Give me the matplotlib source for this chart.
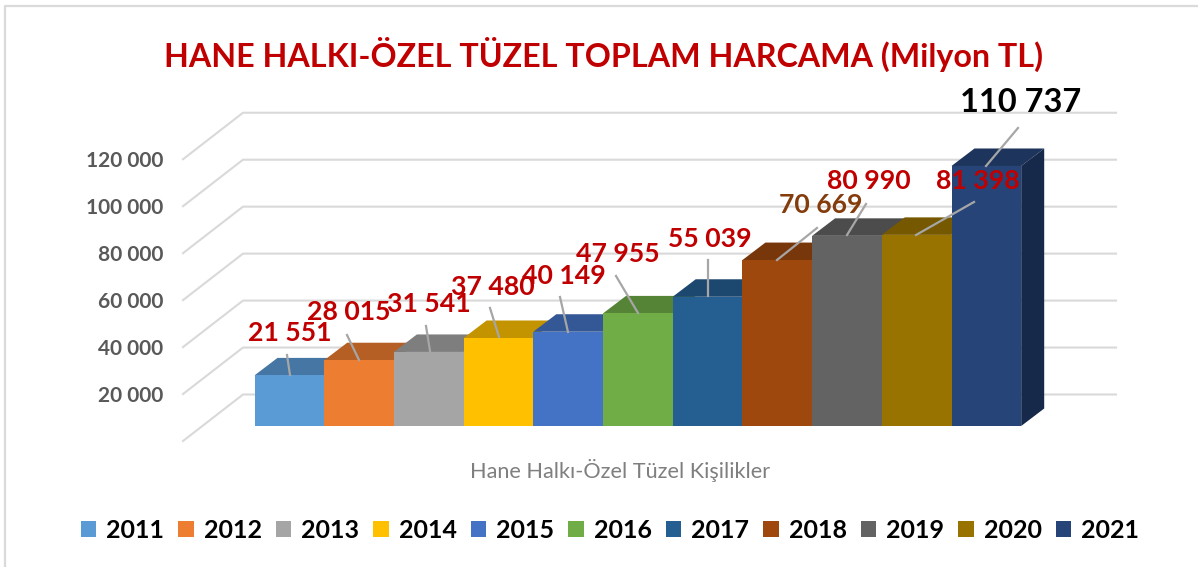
import matplotlib
matplotlib.use('Agg')
import matplotlib.pyplot as plt
from matplotlib.lines import Line2D
from matplotlib.patches import Polygon, Patch
from matplotlib.transforms import Affine2D

years = ['2011', '2012', '2013', '2014', '2015', '2016', '2017', '2018', '2019', '2020', '2021']
values = [21551, 28015, 31541, 37480, 40149, 47955, 55039, 70669, 80990, 81398, 110737]
yticks = [20000, 40000, 60000, 80000, 100000, 120000]
ytick_labels = ['20 000', '40 000', '60 000', '80 000', '100 000', '120 000']
value_labels = ['21 551', '28 015', '31 541', '37 480', '40 149', '47 955',
                '55 039', '70 669', '80 990', '81 398', '110 737']

front = ['#5B9BD5', '#ED7D31', '#A5A5A5', '#FFC000', '#4472C4', '#70AD47',
         '#255E91', '#9E480E', '#636363', '#997300', '#264478']
top = ['#4676A3', '#B55F25', '#7E7E7E', '#C39300', '#345796', '#568436',
       '#1C476F', '#78370B', '#4C4C4C', '#755800', '#1D345C']
side_last = '#17294A'
label_colors = ['#C00000'] * 7 + ['#843C0C', '#C00000', '#C00000', '#000000']
label_sizes = [19.2] * 10 + [23.5]

# label centre, leader start, leader end (pixels, top-left origin)
label_pos = [(290, 333), (349, 312), (429, 304), (493, 287), (564, 276), (618, 254),
             (710, 239), (821, 205), (869, 181), (978, 181), (1021, 102)]
leaders = [((287, 355), (290, 375)), ((347, 335), (359, 360)), ((426, 326), (430, 351)),
           ((490, 308), (499, 337)), ((560, 297), (568, 332)), ((616, 276), (638, 313)),
           ((708, 260), (708, 296)), ((817, 228), (777, 260)), ((866, 204), (847, 235)),
           ((974, 202), (916, 235)), ((1018, 128), (986, 166))]

W, H = 1198, 567
bar_px = 69.7
per_unit = 2.348 / 1000      # pixels per value unit
base = 15 / per_unit         # bars stand 15 px in from the front of the floor
bar_dx = 23 / bar_px
bar_dy = 17.5 / per_unit
wall_dx = 60 / bar_px
wall_dy = 46.5 / per_unit

plt.rcParams['font.family'] = ['Lato', 'DejaVu Sans']
fig = plt.figure(figsize=(W / 100, H / 100), dpi=100)
ax = fig.add_axes([183 / W, (H - 441) / H, 933 / W, 329 / H])
ax.set_xlim((183 - 289.35) / bar_px, (1116 - 289.35) / bar_px)
ax.set_ylim(0, 329 / per_unit)
for s in ax.spines.values():
    s.set_visible(False)
ax.patch.set_alpha(0)

px = Affine2D().scale(1, -1).translate(0, H)

# chart frame, only top and left show in the screenshot
fig.add_artist(Line2D([5, 5, W], [H, 6, 6], color='#DADADA', lw=1.6, transform=px))

# walls and floor grid
x_left = ax.get_xlim()[0]
x_right = ax.get_xlim()[1]
for v in [0] + yticks:
    ax.plot([x_left, x_left + wall_dx, x_right], [v, v + wall_dy, v + wall_dy],
            color='#D9D9D9', lw=1.5, clip_on=False, zorder=1)

# bars, left to right so each one hides the top of the one before it
for i, v in enumerate(values):
    x0, x1 = i - 0.5, i + 0.5
    y = base + v
    ax.add_patch(Polygon([(x0, y), (x0 + bar_dx, y + bar_dy), (x1 + bar_dx, y + bar_dy), (x1, y)],
                         color=top[i], lw=0, zorder=2 + i * 0.1, clip_on=False))
    if i == len(values) - 1:
        ax.add_patch(Polygon([(x1, base), (x1 + bar_dx, base + bar_dy), (x1 + bar_dx, y + bar_dy), (x1, y)],
                             color=side_last, lw=0, zorder=2 + i * 0.1, clip_on=False))
    ax.bar(i, v, width=1, bottom=base, color=front[i], lw=0, zorder=2.05 + i * 0.1)

ax.set_xticks([])
ax.set_yticks(yticks)
ax.set_yticklabels(ytick_labels, fontsize=15, fontweight='bold', color='#595959')
ax.tick_params(axis='y', length=0, pad=14)

# data labels and their leaders
for i, txt in enumerate(value_labels):
    (xa, ya), (xb, yb) = leaders[i]
    ax.plot([xa, xb], [ya, yb], color='#A6A6A6', lw=1.6, transform=px, clip_on=False, zorder=5)
    ax.text(label_pos[i][0], label_pos[i][1], txt, transform=px, ha='center', va='center',
            fontsize=label_sizes[i], fontweight='bold', color=label_colors[i], zorder=6)

fig.text(604 / W, 1 - 54 / H, 'HANE HALKI-ÖZEL TÜZEL TOPLAM HARCAMA (Milyon TL)',
         ha='center', va='center', fontsize=23.2, fontweight='bold', color='#C00000')
fig.text(620 / W, 1 - 471 / H, 'Hane Halkı-Özel Tüzel Kişilikler',
         ha='center', va='center', fontsize=15.6, color='#7F7F7F')

handles = [Patch(facecolor=c, edgecolor='none') for c in front]
fig.legend(handles, years, loc='center', bbox_to_anchor=(610 / W, 1 - 530 / H), ncol=11,
           frameon=False, handlelength=0.62, handleheight=0.62, handletextpad=0.4,
           columnspacing=0.56, borderpad=0, prop={'size': 18, 'weight': 'bold'})

fig.savefig('out.png', dpi=100)
